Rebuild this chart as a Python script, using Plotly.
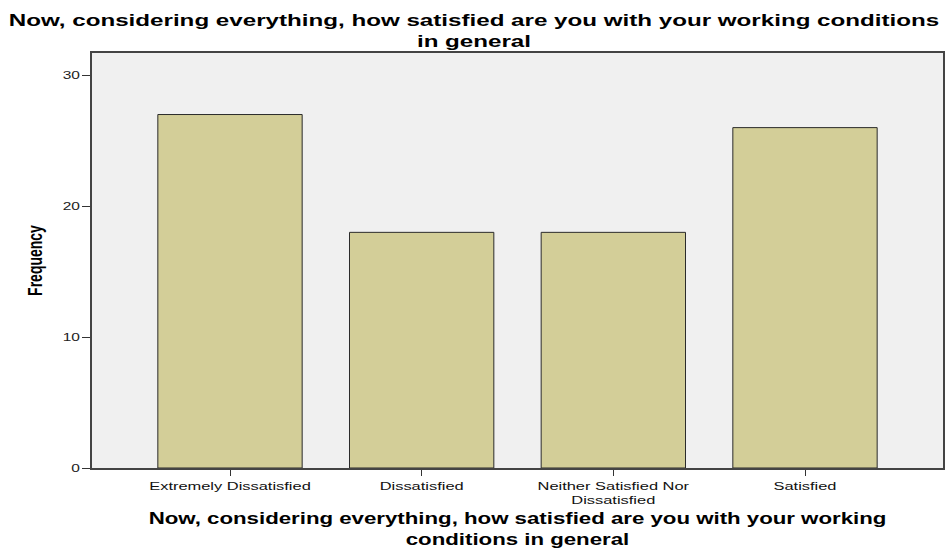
import plotly.graph_objects as go

# Survey responses (SPSS frequency bar chart)
categories = ["Extremely Dissatisfied", "Dissatisfied", "Neither Satisfied Nor Dissatisfied", "Satisfied"]
tick_labels = ["Extremely Dissatisfied", "Dissatisfied", "Neither Satisfied Nor<br>Dissatisfied", "Satisfied"]
frequency = [27, 18, 18, 26]
y_ticks = [0, 10, 20, 30]

QUESTION = "Now, considering everything, how satisfied are you with your working conditions"
FONT = "Liberation Sans, Arial, sans-serif"

fig = go.Figure()
fig.add_trace(go.Bar(
    x=categories,
    y=frequency,
    marker=dict(color="#D3CE98", line=dict(color="#2b2b2b", width=1)),
    hovertemplate="%{x}: %{y}<extra></extra>",
))

fig.update_layout(
    width=948,
    height=548,
    margin=dict(l=92, r=5, t=53, b=80),
    paper_bgcolor="white",
    plot_bgcolor="#F0F0F0",
    font=dict(family=FONT, color="#000000"),
    bargap=0.247,
    showlegend=False,
    title=dict(
        text="<b>" + QUESTION + "<br>in general</b>",
        x=0.5, xanchor="center", xref="container",
        y=0.953, yanchor="middle", yref="container",
        font=dict(size=16, color="#000000"),
    ),
)

fig.update_xaxes(
    range=[-0.72, 3.72],
    tickvals=categories,
    ticktext=tick_labels,
    ticks="outside", ticklen=6, tickcolor="#333333", tickwidth=1,
    tickfont=dict(size=11.5, color="#111111"),
    showline=True, linecolor="#444444", linewidth=1.5, mirror=True,
    showgrid=False, automargin=False,
    title=dict(
        text="<b>Now, considering everything, how satisfied are you with your working<br>conditions in general</b>",
        font=dict(size=16, color="#000000"),
        standoff=10,
    ),
)

fig.update_yaxes(
    range=[0, 31.7],
    tickvals=y_ticks,
    ticks="outside", ticklen=8, tickcolor="#333333", tickwidth=1,
    tickfont=dict(size=11.5, color="#222222"),
    showline=True, linecolor="#444444", linewidth=1.5, mirror=True,
    showgrid=False, zeroline=False, automargin=False,
    title=dict(text="<b>Frequency</b>", font=dict(size=14, color="#000000"), standoff=21),
)

# the reference export is stretched horizontally; widen the texts the same way
post = """
document.body.style.margin = '0';
var gd = document.getElementById('{plot_id}');
function stretch(sel, s, anchor) {
  gd.querySelectorAll(sel).forEach(function(t) {
    var b = t.getBBox();
    var cx = b.x + b.width / 2;
    if (anchor === 'end') { cx = b.x + b.width; }
    var prev = t.getAttribute('transform') || '';
    t.setAttribute('transform', prev + ' translate(' + cx + ',0) scale(' + s + ',1) translate(' + (-cx) + ',0)');
  });
}
stretch('.gtitle', 1.51, 'middle');
stretch('.g-xtitle text', 1.39, 'middle');
stretch('.xtick text', 1.43, 'middle');
stretch('.ytick text', 1.35, 'end');
// rotated y title: stretch in page space, around its own x
gd.querySelectorAll('.g-ytitle text').forEach(function(t) {
  var cx = parseFloat(t.getAttribute('x'));
  var prev = t.getAttribute('transform') || '';
  t.setAttribute('transform', 'translate(' + cx + ',0) scale(1.4,1) translate(' + (-cx) + ',0) ' + prev);
});
"""

fig.write_html("out.html", post_script=post, config={"displayModeBar": False})
